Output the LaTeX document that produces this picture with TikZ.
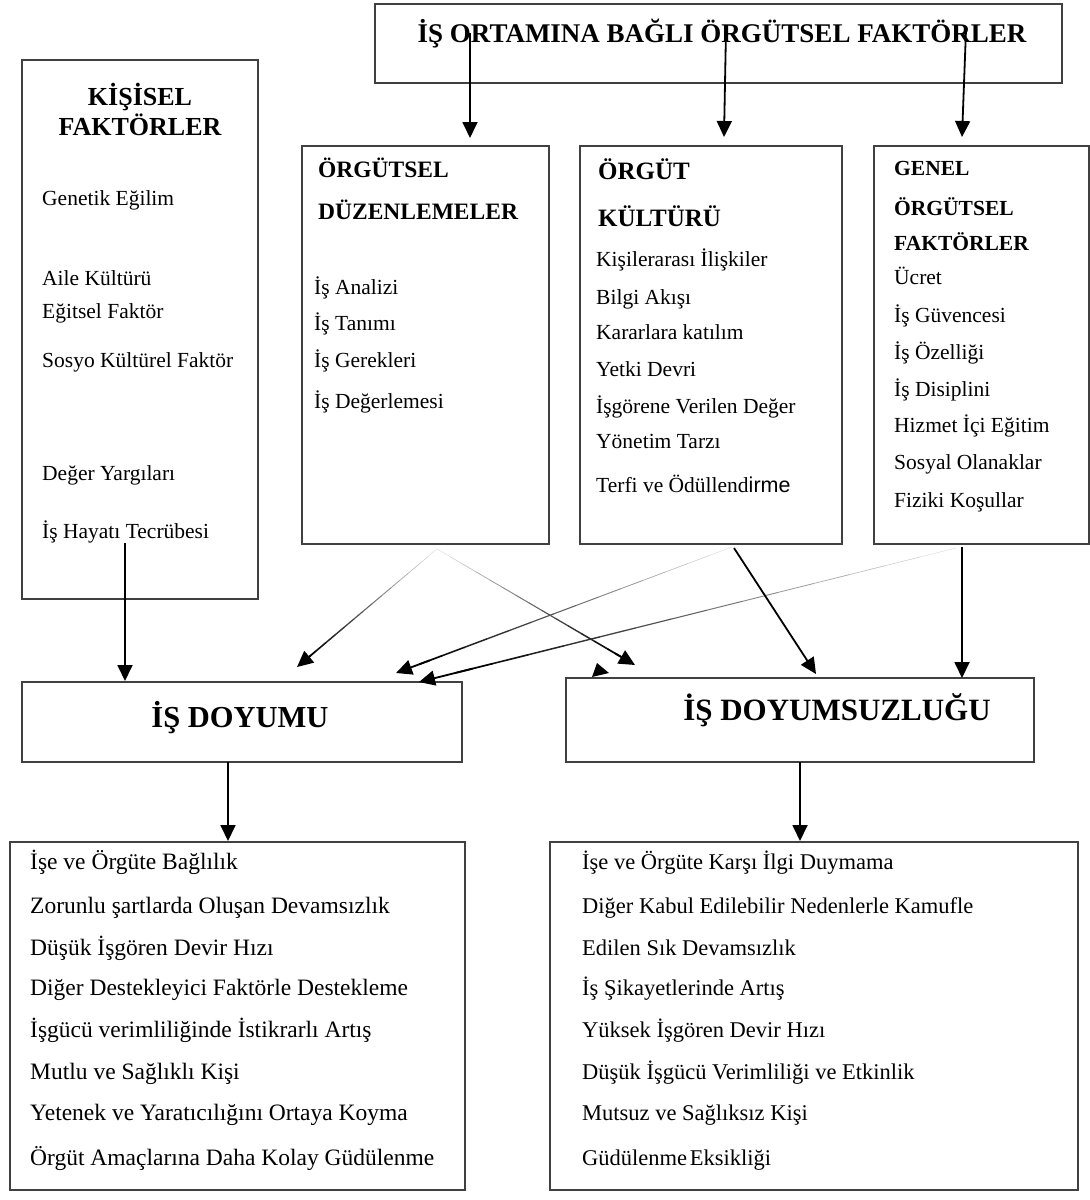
\documentclass[tikz,border=0pt]{standalone}
\usepackage{fontspec}
\setmainfont{Liberation Serif}
\newfontfamily\sansf{Liberation Sans}
\usetikzlibrary{arrows.meta,calc,fit}

\tikzset{
  frame/.style={draw=black!75, line width=1.2pt, inner sep=0pt},
  item/.style={anchor=base west, inner sep=0pt, font=\fontsize{21.5}{24}\selectfont},
  lowitem/.style={anchor=base west, inner sep=0pt, font=\fontsize{#1}{26}\selectfont},
  ttl/.style={anchor=base west, inner sep=0pt, font=\bfseries\fontsize{#1}{#1}\selectfont},
  ctitle/.style={anchor=base, inner sep=0pt, font=\bfseries\fontsize{#1}{#1}\selectfont},
  conn/.style={line width=1.8pt, -{Triangle[length=16pt,width=15pt]}},
}

% connector that starts faint and thin and ends dark and thick
\newcommand\fadeconn[2]{%
  \foreach \k in {0,...,13}{%
    \pgfmathsetmacro\fda{\k/14*0.93}%
    \pgfmathsetmacro\fdb{(\k+1)/14*0.93}%
    \pgfmathsetmacro\fdc{int(8+92*(\k+1)/14)}%
    \pgfmathsetmacro\fdw{0.3+1.4*(\k+1)/14}%
    \draw[line width=\fdw pt, draw=black!\fdc, line cap=round] ($(#1)!\fda!(#2)$) -- ($(#1)!\fdb!(#2)$);
  }%
  \draw[conn] ($(#1)!0.9!(#2)$) -- (#2);
}

\begin{document}
\begin{tikzpicture}[x=1pt,y=-1pt]
\useasboundingbox[fill=white] (0,0) rectangle (1090,1200);

% ---------- top box ----------
\node[frame, fit={(375,4) (1062,83)}] (top) {};
\node[ctitle=27] (ttop) at (722,42) {İŞ ORTAMINA BAĞLI ÖRGÜTSEL FAKTÖRLER};

% ---------- personal factors ----------
\node[frame, fit={(22,60) (258,599)}] (kis) {};
\node[ctitle=26] (kis1) at (140,105) {KİŞİSEL};
\node[ctitle=26] (kis2) at (140,135) {FAKTÖRLER};
\node[item] (k1) at (42,205) {Genetik Eğilim};
\node[item] (k2) at (42,285) {Aile Kültürü};
\node[item] (k3) at (42,318) {Eğitsel Faktör};
\node[item] (k4) at (42,367) {Sosyo Kültürel Faktör};
\node[item] (k5) at (42,480) {Değer Yargıları};
\node[item] (k6) at (42,538) {İş Hayatı Tecrübesi};

% ---------- organisational arrangements ----------
\node[frame, fit={(302,146) (549,544)}] (odz) {};
\node[ttl=23.5] (od1) at (318,177) {ÖRGÜTSEL};
\node[ttl=23.5] (od2) at (318,219) {DÜZENLEMELER};
\node[item] (o1) at (314,294) {İş Analizi};
\node[item] (o2) at (314,330) {İş Tanımı};
\node[item] (o3) at (314,367) {İş Gerekleri};
\node[item] (o4) at (314,408) {İş Değerlemesi};

% ---------- organisational culture ----------
\node[frame, fit={(580,146) (842,544)}] (okt) {};
\node[ttl=25] (oc1) at (598,179) {ÖRGÜT};
\node[ttl=25] (oc2) at (598,226) {KÜLTÜRÜ};
\node[item] (c1) at (596,266) {Kişilerarası İlişkiler};
\node[item] (c2) at (596,304) {Bilgi Akışı};
\node[item] (c3) at (596,339) {Kararlara katılım};
\node[item] (c4) at (596,376) {Yetki Devri};
\node[item] (c5) at (596,413) {İşgörene Verilen Değer};
\node[item] (c6) at (596,448) {Yönetim Tarzı};
\node[item] (c7) at (596,492) {Terfi ve Ödüllend{\sansf irme}};

% ---------- general organisational factors ----------
\node[frame, fit={(874,146) (1089,544)}] (gen) {};
\node[ttl=21.5] (g1) at (894,175) {GENEL};
\node[ttl=21.5] (g2) at (894,215) {ÖRGÜTSEL};
\node[ttl=21.5] (g3) at (894,250) {FAKTÖRLER};
\node[item] (e1) at (894,284) {Ücret};
\node[item] (e2) at (894,322) {İş Güvencesi};
\node[item] (e3) at (894,359) {İş Özelliği};
\node[item] (e4) at (894,396) {İş Disiplini};
\node[item] (e5) at (894,432) {Hizmet İçi Eğitim};
\node[item] (e6) at (894,469) {Sosyal Olanaklar};
\node[item] (e7) at (894,507) {Fiziki Koşullar};

% ---------- satisfaction / dissatisfaction ----------
\node[frame, fit={(22,682) (462,762)}] (doy) {};
\node[ctitle=30.5] (doyt) at (240,727) {İŞ DOYUMU};
\node[frame, fit={(566,678) (1034,762)}] (dsz) {};
\node[ctitle=31] (dszt) at (837,720) {İŞ DOYUMSUZLUĞU};

% ---------- outcome lists ----------
\node[frame, fit={(10,842) (465,1190)}] (res1) {};
\node[lowitem=23.5] (r1) at (30,869) {İşe ve Örgüte Bağlılık};
\node[lowitem=23.5] (r2) at (30,913) {Zorunlu şartlarda Oluşan Devamsızlık};
\node[lowitem=23.5] (r3) at (30,955) {Düşük İşgören Devir Hızı};
\node[lowitem=23.5] (r4) at (30,995) {Diğer Destekleyici Faktörle Destekleme};
\node[lowitem=23.5] (r5) at (30,1037) {İşgücü verimliliğinde İstikrarlı Artış};
\node[lowitem=23.5] (r6) at (30,1079) {Mutlu ve Sağlıklı Kişi};
\node[lowitem=23.5] (r7) at (30,1120) {Yetenek ve Yaratıcılığını Ortaya Koyma};
\node[lowitem=23.5] (r8) at (30,1165) {Örgüt Amaçlarına Daha Kolay Güdülenme};

\node[frame, fit={(550,842) (1078,1190)}] (res2) {};
\node[lowitem=22.5] (s1) at (582,869) {İşe ve Örgüte Karşı İlgi Duymama};
\node[lowitem=22.5] (s2) at (582,913) {Diğer Kabul Edilebilir Nedenlerle Kamufle};
\node[lowitem=22.5] (s3) at (582,955) {Edilen Sık Devamsızlık};
\node[lowitem=22.5] (s4) at (582,995) {İş Şikayetlerinde Artış};
\node[lowitem=22.5] (s5) at (582,1037) {Yüksek İşgören Devir Hızı};
\node[lowitem=22.5] (s6) at (582,1079) {Düşük İşgücü Verimliliği ve Etkinlik};
\node[lowitem=22.5] (s7) at (582,1120) {Mutsuz ve Sağlıksız Kişi};
\node[lowitem=22.5] (s8) at (582,1165) {Güdülenme\hspace{0.12em}Eksikliği};

% ---------- connector end points ----------
\coordinate (a1s) at (470,33);   \coordinate (a1e) at (470,138);
\coordinate (a2s) at (726,30);   \coordinate (a2e) at (724,137);
\coordinate (a3s) at (966,30);   \coordinate (a3e) at (962,137);
\coordinate (kss) at (125,543);  \coordinate (kse) at (125,681);
\coordinate (ods) at (437,549);
\coordinate (ocs) at (732,547);  \coordinate (ocd) at (734,548);
\coordinate (gns) at (956,548);  \coordinate (gnd) at (962,547);
\coordinate (t1) at (297,667);
\coordinate (t2) at (396,673);
\coordinate (t3) at (419,682);
\coordinate (u1) at (635,665);
\coordinate (u2) at (816,674);
\coordinate (u3) at (962,678);
\coordinate (dd) at (228,762);   \coordinate (dde) at (228,841);
\coordinate (sd) at (800,762);   \coordinate (sde) at (800,841);

% ---------- connectors ----------
\draw[conn] (a1s) -- (a1e);
\draw[conn] (a2s) -- (a2e);
\draw[conn] (a3s) -- (a3e);
\draw[conn] (kss) -- (kse);
\fadeconn{ods}{t1}
\fadeconn{ods}{u1}
\fadeconn{ocs}{t2}
\fadeconn{gns}{t3}
\draw[conn] (ocd) -- (u2);
\draw[conn] (gnd) -- (u3);
\draw[conn] (dd) -- (dde);
\draw[conn] (sd) -- (sde);

% stray arrowhead resting on the dissatisfaction box
\fill (592,677) -- (597,663) -- (609,673) -- cycle;
\end{tikzpicture}
\end{document}
